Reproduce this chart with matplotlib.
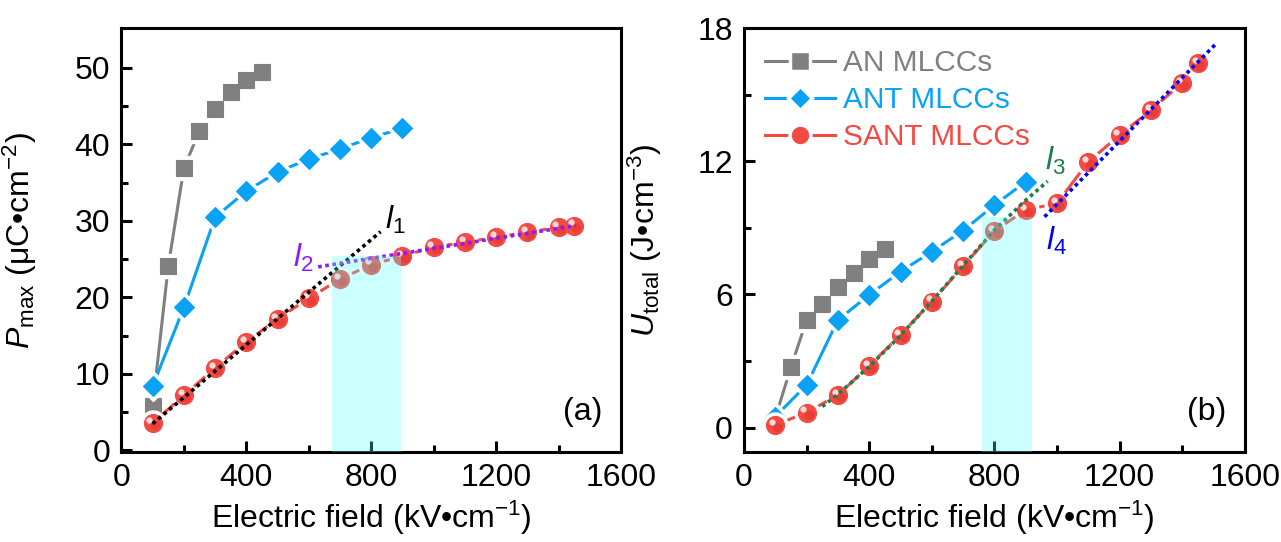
import matplotlib
matplotlib.use('Agg')
import matplotlib.pyplot as plt
from matplotlib.transforms import offset_copy
from matplotlib.lines import Line2D

plt.rcParams['font.family'] = ['Liberation Sans', 'DejaVu Sans']
plt.rcParams['mathtext.fontset'] = 'custom'
plt.rcParams['mathtext.rm'] = 'Liberation Sans'
plt.rcParams['mathtext.it'] = 'Liberation Sans:italic'
plt.rcParams['mathtext.bf'] = 'Liberation Sans:bold'

# ---- data (a): Pmax ----
an_e = [100, 150, 200, 250, 300, 350, 400, 450]
an_p = [5.8, 24.1, 36.9, 41.8, 44.7, 46.8, 48.4, 49.5]
ant_e = [100, 200, 300, 400, 500, 600, 700, 800, 900]
ant_p = [8.4, 18.7, 30.5, 33.9, 36.4, 38.1, 39.4, 40.9, 42.1]
sant_e = [100, 200, 300, 400, 500, 600, 700, 800, 900, 1000, 1100, 1200, 1300, 1400, 1450]
sant_p = [3.6, 7.2, 10.8, 14.2, 17.2, 19.9, 22.4, 24.3, 25.4, 26.6, 27.2, 27.9, 28.5, 29.2, 29.4]

# ---- data (b): Utotal ----
an_u = [0.45, 2.72, 4.85, 5.57, 6.35, 6.98, 7.58, 8.05]
ant_u = [0.5, 1.92, 4.85, 5.98, 7.03, 7.93, 8.88, 10.03, 11.08]
sant_u = [0.12, 0.68, 1.47, 2.78, 4.18, 5.68, 7.28, 8.86, 9.81, 10.11, 11.98, 13.18, 14.31, 15.54, 16.41]

# fitted guide lines
l1_x = [100, 830]
l1_y = [3.5, 28.6]
l2_x = [630, 1455]
l2_y = [24.0, 29.4]
l3_x = [250, 300, 400, 500, 600, 700, 800, 900, 970]
l3_y = [0.95, 1.5, 2.75, 4.15, 5.7, 7.3, 8.9, 10.25, 11.1]
l4_x = [960, 1508]
l4_y = [9.5, 17.3]

band_a = [675, 895]
band_a_top = 25.4
band_b = [760, 920]
band_b_top = 9.5

GRAY = '#808080'
BLUE = '#0aa2f5'
RED = '#f44a44'
BAND = (0.35, 1.0, 1.0)
FS = 23
LFS = 21.5

fig = plt.figure(figsize=(12.81, 5.42), dpi=100)
ax1 = fig.add_axes([0.0948, 0.166, 0.390, 0.782])
ax2 = fig.add_axes([0.5808, 0.166, 0.391, 0.782])


def series(ax, x, y, color, marker, ms, z, shine=False):
    ax.plot(x, y, '-', color=color, lw=2.2, zorder=z)
    ax.plot(x, y, ls='none', marker=marker, ms=ms + 5, color='white',
            mec='white', zorder=z + 0.1)
    ax.plot(x, y, ls='none', marker=marker, ms=ms, color=color,
            mec=color, mew=0.8, zorder=z + 0.2)
    if shine:
        tr2 = offset_copy(ax.transData, fig=fig, x=1.5, y=-1.5, units='points')
        ax.plot(x, y, ls='none', marker='o', ms=7, color='#e0322c', mec='none',
                alpha=0.5, transform=tr2, zorder=z + 0.25)
        tr = offset_copy(ax.transData, fig=fig, x=-2.3, y=2.3, units='points')
        ax.plot(x, y, ls='none', marker='o', ms=4.5, color='white', mec='none',
                alpha=0.8, transform=tr, zorder=z + 0.3)


series(ax1, an_e, an_p, GRAY, 's', 12, 2)
series(ax1, ant_e, ant_p, BLUE, 'D', 10.5, 3)
series(ax1, sant_e, sant_p, RED, 'o', 13, 4, shine=True)

series(ax2, an_e, an_u, GRAY, 's', 12, 2)
series(ax2, ant_e, ant_u, BLUE, 'D', 10.5, 3)
series(ax2, sant_e, sant_u, RED, 'o', 13, 4, shine=True)

ax1.plot(l1_x, l1_y, ls=(0, (1, 1)), color='black', lw=2.6, zorder=6)
ax1.plot(l2_x, l2_y, ls=(0, (1, 1)), color='#8c1aff', lw=2.6, zorder=6)
ax2.plot(l3_x, l3_y, ls=(0, (1, 1)), color='#1a8048', lw=2.6, zorder=6)
ax2.plot(l4_x, l4_y, ls=(0, (1, 1)), color='#0000ff', lw=2.6, zorder=6)

ax1.text(845, 29.0, r'$l_1$', fontsize=FS, color='black', va='baseline')
ax1.text(550, 24.0, r'$l_2$', fontsize=FS, color='#8c1aff', va='baseline')
ax2.text(960, 11.6, r'$l_3$', fontsize=FS, color='#1a8048', va='baseline')
ax2.text(966, 8.0, r'$l_4$', fontsize=FS, color='#0000ff', va='baseline')

ax1.set_xlim(0, 1600)
ax1.set_ylim(-0.2, 55.2)
ax2.set_xlim(0, 1600)
ax2.set_ylim(-1.1, 18)

ax1.fill_between(band_a, -0.2, band_a_top, color=BAND, alpha=0.3, lw=0, zorder=10)
ax2.fill_between(band_b, -1.1, band_b_top, color=BAND, alpha=0.3, lw=0, zorder=10)

ax1.set_xticks([0, 400, 800, 1200, 1600])
ax1.set_xticks([200, 600, 1000, 1400], minor=True)
ax1.set_yticks([0, 10, 20, 30, 40, 50])
ax1.set_yticks([5, 15, 25, 35, 45], minor=True)
ax2.set_xticks([0, 400, 800, 1200, 1600])
ax2.set_xticks([200, 600, 1000, 1400], minor=True)
ax2.set_yticks([0, 6, 12, 18])
ax2.set_yticks([3, 9, 15], minor=True)

for ax in (ax1, ax2):
    for s in ax.spines.values():
        s.set_linewidth(2.2)
    ax.tick_params(which='major', direction='in', length=8, width=2.2,
                   labelsize=FS, pad=8)
    ax.tick_params(which='minor', direction='in', length=5, width=2.2)
    ax.set_xlabel('Electric field (kV•cm$^{-1}$)', fontsize=FS)
    ax.xaxis.set_label_coords(0.5, -0.11)

ax1.set_ylabel(r'$P_{\rm max}$ (μC•cm$^{-2}$)', fontsize=FS)
ax1.yaxis.set_label_coords(-0.165, 0.5)
ax2.set_ylabel(r'$U_{\rm total}$ (J•cm$^{-3}$)', fontsize=FS)
ax2.yaxis.set_label_coords(-0.16, 0.5)

ax1.text(0.962, 0.095, '(a)', transform=ax1.transAxes, fontsize=FS,
         ha='right', va='center')
ax2.text(0.962, 0.095, '(b)', transform=ax2.transAxes, fontsize=FS,
         ha='right', va='center')

handles = [
    Line2D([], [], color=GRAY, lw=2.2, marker='s', ms=14, mfc=GRAY, mec='white', mew=2.5),
    Line2D([], [], color=BLUE, lw=2.2, marker='D', ms=12.5, mfc=BLUE, mec='white', mew=2.5),
    Line2D([], [], color=RED, lw=2.2, marker='o', ms=15, mfc=RED, mec='white', mew=2.5),
]
leg = ax2.legend(handles, ['AN MLCCs', 'ANT MLCCs', 'SANT MLCCs'],
                 loc='upper left', bbox_to_anchor=(0.0, 1.0), frameon=False,
                 fontsize=LFS, handlelength=2.35, handletextpad=0.25,
                 labelspacing=0.3, borderaxespad=0.3)
for t, c in zip(leg.get_texts(), [GRAY, BLUE, RED]):
    t.set_color(c)

plt.savefig('out.png', dpi=100)
